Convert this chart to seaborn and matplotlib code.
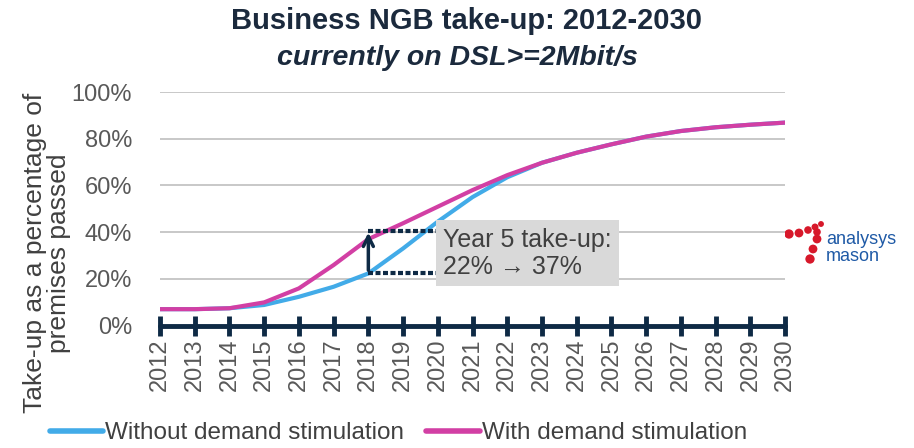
import matplotlib.pyplot as plt
import pandas as pd
import seaborn as sns

# Data
years = list(range(2012, 2031))
without_stim = [7, 7, 7.4, 8.8, 12.3, 16.6, 22.3, 33, 44.5, 55, 63.5, 69.7, 74,
                77.6, 80.9, 83.3, 84.9, 86, 86.9]
with_stim = [7, 7, 7.4, 9.9, 15.9, 25.9, 37, 43.8, 50.9, 58, 64.4, 69.7, 74,
             77.6, 80.9, 83.3, 84.9, 86, 86.9]
series_names = ['Without demand stimulation', 'With demand stimulation']
y_ticks = [0, 20, 40, 60, 80, 100]

# annotation values (year 5 = 2018)
year5 = 2018
year5_before = 22.5
year5_after = 40.5

df = pd.DataFrame({'year': years,
                   series_names[0]: without_stim,
                   series_names[1]: with_stim})
df_long = df.melt(id_vars='year', var_name='scenario', value_name='takeup')

sns.set_style('white')
plt.rcParams['font.family'] = ['Liberation Sans', 'DejaVu Sans']

navy = '#0e2a45'
grey_txt = '#595959'
colors = ['#42ABE8', '#D23FA4']

fig = plt.figure(figsize=(9.14, 4.48), dpi=100)
ax = fig.add_axes([0.175, 0.2734, 0.684, 0.5212])

sns.lineplot(data=df_long, x='year', y='takeup', hue='scenario',
             hue_order=series_names, palette=colors,
             linewidth=3, ax=ax, legend=False, zorder=3)

ax.set_xlim(2012, 2030)
ax.set_ylim(0, 100)
ax.set_yticks(y_ticks)
ax.set_yticklabels([f'{v}%' for v in y_ticks], color=grey_txt, fontsize=17)
ax.set_xticks(years)
ax.set_xticklabels([str(y) for y in years], rotation=90, color=grey_txt,
                   fontsize=17)
ax.yaxis.grid(True, color='#c8c8c8', linewidth=1.4)
ax.set_axisbelow(True)
for s in ['top', 'right', 'left']:
    ax.spines[s].set_visible(False)
ax.spines['bottom'].set_color(navy)
ax.spines['bottom'].set_linewidth(3.5)
ax.spines['bottom'].set_capstyle('round')
ax.tick_params(axis='x', bottom=True, direction='inout', length=14,
               width=3.5, color=navy, pad=2)
ax.tick_params(axis='y', left=False, length=0, pad=20)
ax.set_xlabel('')
ax.set_ylabel('Take-up as a percentage of\npremises passed', fontsize=19,
              color='#404040', linespacing=1.0)
ax.yaxis.set_label_coords(-0.143, 0.31)

# title
fig.text(0.51, 0.953, 'Business NGB take-up: 2012-2030', ha='center',
         va='center', fontsize=21, fontweight='bold', color='#1b2a3d')
fig.text(0.50, 0.87, 'currently on DSL>=2Mbit/s', ha='center', va='center',
         fontsize=20.5, fontstyle='italic', fontweight='bold',
         color='#1b2a3d')

# year 5 annotation
ax.plot([year5, year5 + 2], [year5_after, year5_after], color=navy,
        linewidth=3, linestyle=(0, (1.2, 0.6)), zorder=4)
ax.plot([year5, year5 + 2], [year5_before, year5_before], color=navy,
        linewidth=3, linestyle=(0, (1.2, 0.6)), zorder=4)
ax.annotate('', xy=(year5, year5_after + 0.5), xytext=(year5, year5_before),
            arrowprops=dict(arrowstyle='->', color=navy, lw=2.5,
                            mutation_scale=18), zorder=5)
ax.text(2020.15, 31, 'Year 5 take-up:\n22% \u2192 37%', fontsize=18,
        color='#404040', va='center', ha='left', linespacing=1.15, zorder=5,
        bbox=dict(boxstyle='square,pad=0.3', fc='#d9d9d9', ec='none'))

# legend
handles = [plt.Line2D([], [], color=c, linewidth=4, solid_capstyle='round')
           for c in colors]
fig.legend(handles, series_names, loc='center', ncol=2,
           bbox_to_anchor=(0.436, 0.033), frameon=False, fontsize=17.5,
           handlelength=2.2, handletextpad=0.1, columnspacing=0.9,
           labelcolor='#404040')

# analysys mason logo
dots_x = [789, 799, 808, 815, 821, 817, 817, 813, 810]
dots_y = [234, 233, 230, 227, 224, 232, 239, 249, 259]
dots_s = [45, 40, 30, 25, 18, 30, 40, 40, 45]
fig_dots = fig.add_axes([0, 0, 1, 1], zorder=-1)
fig_dots.set_xlim(0, 914)
fig_dots.set_ylim(448, 0)
fig_dots.axis('off')
fig_dots.scatter(dots_x, dots_y, s=dots_s, color='#d7182a', linewidths=0)
fig.text(0.904, 0.4475, 'analysys\nmason', ha='left', va='center',
         fontsize=13, color='#1f5aa6', linespacing=1.0)

fig.savefig('out.png', dpi=100)
